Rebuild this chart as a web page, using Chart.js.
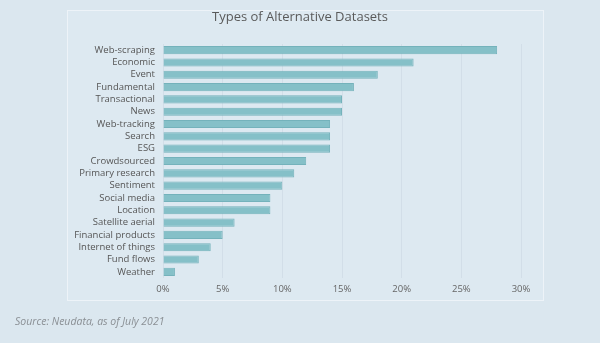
<!DOCTYPE html>
<html><head><meta charset="utf-8">
<script src="https://cdn.jsdelivr.net/npm/chart.js@4/dist/chart.umd.min.js"></script>
<style>html,body{margin:0;padding:0;background:#dbe7ef;}#wrap{position:relative;width:600px;height:343px;}
#ttl{position:absolute;left:0;width:600px;top:7px;text-align:center;font-family:'Open Sans';font-size:13px;line-height:18px;color:#5a5a5a;white-space:nowrap;}
#src{position:absolute;left:15px;top:314px;font-family:'Open Sans';font-style:italic;font-size:10.5px;color:#8a8f94;white-space:nowrap;}</style>
</head><body><div id="wrap"><canvas id="c" width="600" height="343"></canvas><div id="ttl"></div><div id="src"></div></div>
<script>
const categories = ["Web-scraping","Economic","Event","Fundamental","Transactional","News","Web-tracking","Search","ESG","Crowdsourced","Primary research","Sentiment","Social media","Location","Satellite aerial","Financial products","Internet of things","Fund flows","Weather"];
const shares = [28,21,18,16,15,15,14,14,14,12,11,10,9,9,6,5,4,3,1];
const tickValues = [0,5,10,15,20,25,30];
const titleText = "Types of Alternative Datasets";
const sourceText = "Source: Neudata, as of July 2021";
document.getElementById('ttl').textContent = titleText;
document.getElementById('src').textContent = sourceText;

const panel = {
  id:'panel',
  beforeDraw(chart){
    const ctx = chart.ctx;
    ctx.save();
    ctx.fillStyle = '#dbe7ef';
    ctx.fillRect(0,0,chart.width,chart.height);
    ctx.fillStyle = '#dde9f1';
    ctx.fillRect(67,10,476,290);
    ctx.strokeStyle = 'rgba(238,244,248,0.9)';
    ctx.lineWidth = 1;
    ctx.strokeRect(67.5,10.5,476,290);
    ctx.restore();
  }
};

new Chart(document.getElementById('c'), {
  type:'bar',
  data:{labels:categories, datasets:[{data:shares, backgroundColor:'#85c0c8', borderColor:'#74b2bb', borderWidth:1, barPercentage:0.66, categoryPercentage:1}]},
  options:{
    indexAxis:'y', responsive:false, animation:false, devicePixelRatio:1,
    layout:{padding:{left:15,right:79,top:44,bottom:42}},
    plugins:{ legend:{display:false}, tooltip:{enabled:false} },
    scales:{
      x:{min:0,max:30, afterBuildTicks(s){s.ticks = tickValues.map(v=>({value:v}));},
        afterFit(s){s.height=23;},
        ticks:{callback:v=>v+'%', color:'#666', font:{family:'Open Sans', size:9.5}, padding:6},
        grid:{color:'rgba(200,214,224,0.55)', drawTicks:false}, border:{display:false}},
      y:{afterFit(s){s.width=148;},
        ticks:{color:'#555', font:{family:'Open Sans', size:9.5}, padding:8, autoSkip:false},
        grid:{display:false, drawTicks:false}, border:{display:false}}
    }
  },
  plugins:[panel]
});
</script></body></html>
